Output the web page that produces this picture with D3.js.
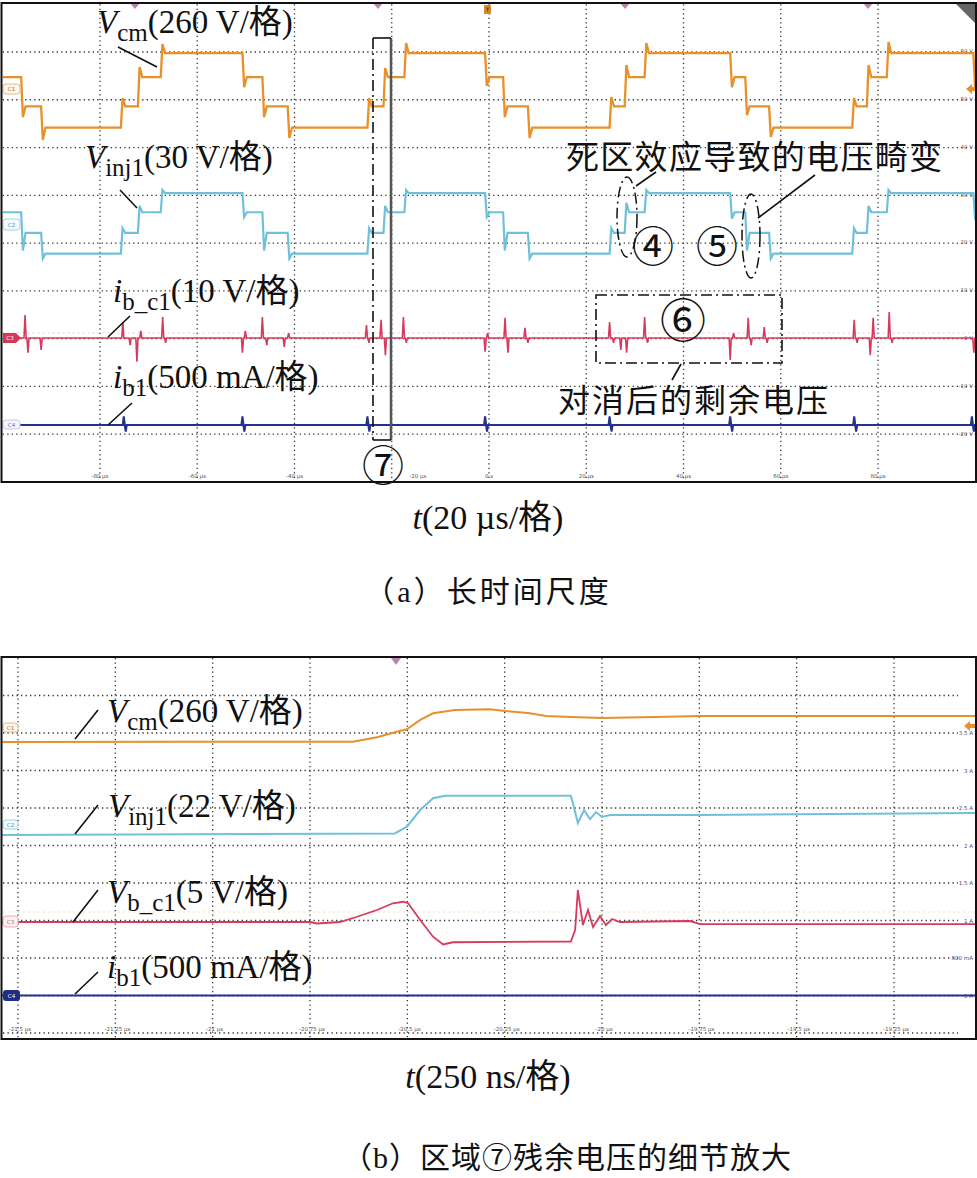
<!DOCTYPE html>
<html><head><meta charset="utf-8">
<script src="https://cdn.jsdelivr.net/npm/d3@7"></script>
<style>body{margin:0;background:#fff}svg{display:block}</style>
</head><body>
<svg id="c" width="977" height="1178"></svg>
<script>
// ================= DATA =================
// ---- panel (a): long time scale, t in µs ----
const aTimeTicks = [-80,-60,-40,-20,0,20,40,60,80];
const aTimeLabels = ["-80 µs","-60 µs","-40 µs","-20 µs","0 s","20 µs","40 µs","60 µs","80 µs"];
const aRightTicks = [60,50,40,30,20,10,0,-10,-20];
const aRightLabels = ["60 V","50 V","40 V","30 V","20 V","10 V","0 V","-10 V","-20 V"];
// switching edges (µs)
const aEdges = [-96.2,-92.1,-75.7,-72.2,-67.5,-50.7,-46.6,-41.4,-25.0,-21.7,-17.4,-0.8,2.9,8.0,24.8,27.9,32.0,49.6,52.7,57.6,74.7,77.7,81.8,99.6];
// Vcm (V) level after each edge, and overshoot peak at each edge
const aVcmStart = 60;
const aVcmLevels = [-100,-215,-100,60,190,60,-100,-215,-100,60,190,60,-100,-215,-100,60,190,60,-100,-215,-100,60,190,60];
const aVcmPeaks  = [-158,-283,-54,114,239,5,-158,-272,-54,109,245,11,-158,-272,-49,125,245,5,-147,-266,-54,125,250,5];
// Vinj1 (V)
const aVinjStart = 8;
const aVinjLevels = [-5,-18,-5,8,20,8,-5,-18,-5,8,20,8,-5,-18,-5,8,20,8,-5,-18,-5,8,20,8];
const aVinjPeaks  = [-16,-21,-2,12,22,5,-16,-21,-2,12,22,5,-16,-21,-2,14,22,4,-16,-21,-2,12,22,5];
// ib_c1 spikes [t µs, V]
const aIbc1Spikes = [[-95.4,4.8],[-94.8,-3.1],[-92.1,-2.5],[-75.3,3.3],[-73.8,-1.5],[-72.4,-5.0],[-71.6,1.5],[-67.1,4.4],[-66.5,-1.0],[-50.7,-3.1],[-50.1,1.5],[-46.6,4.4],[-45.7,-1.5],[-42.1,-1.9],[-41.2,1.0],[-25.2,2.7],[-24.7,-1.0],[-22.2,3.8],[-21.3,-3.6],[-17.6,4.4],[-17.0,-1.0],[-0.8,-2.9],[-0.3,1.0],[3.3,4.2],[3.9,-3.1],[7.4,2.1],[8.0,-1.0],[24.8,3.3],[25.6,-1.0],[27.1,-2.5],[28.3,-3.1],[32.0,4.4],[32.6,-1.0],[49.6,-4.6],[50.3,1.0],[53.3,4.2],[53.9,-1.5],[56.6,2.3],[57.2,-1.0],[75.1,3.8],[75.7,-1.0],[78.4,-3.6],[79.0,4.2],[82.3,5.4],[82.9,-1.0],[99.7,-3.1]];
// ib1 spikes [t µs, A]
const aIb1Spikes = [[-75.1,0.09],[-74.7,-0.07],[-50.7,0.09],[-50.3,-0.07],[-25.0,0.09],[-24.6,-0.07],[-0.8,0.09],[-0.4,-0.07],[24.8,0.09],[25.2,-0.07],[49.6,0.09],[50.0,-0.07],[75.1,0.09],[75.5,-0.07],[99.3,0.09],[99.7,-0.07]];

// ---- panel (b): zoom of region 7, t in µs ----
const bTimeTicks = [-21.5,-21.25,-21,-20.75,-20.5,-20.25,-20,-19.75,-19.5,-19.25];
const bTimeLabels = ["-21.5 µs","-21.25 µs","-21 µs","-20.75 µs","-20.5 µs","-20.25 µs","-20 µs","-19.75 µs","-19.5 µs","-19.25 µs"];
const bRightTicks = [3.5,3,2.5,2,1.5,1,0.5,0];
const bRightLabels = ["3.5 A","3 A","2.5 A","2 A","1.5 A","1 A","500 mA","0 A"];
const bVcm = [[-21.541,-104],[-21.1,-103],[-20.640,-102],[-20.578,-71],[-20.527,-33],[-20.501,-16],[-20.467,49],[-20.434,95],[-20.378,118],[-20.288,123],[-20.249,111],[-20.190,97],[-20.144,76],[-20.080,69],[-19.997,62],[-19.864,69],[-19.746,76],[-19.497,76],[-19.042,76]];
const bVinj = [[-21.541,-6.5],[-20.532,-5.5],[-20.501,-1.6],[-20.467,8.2],[-20.434,15.1],[-20.403,16.6],[-20.080,16.6],[-20.069,7.0],[-20.062,0.6],[-20.046,8.2],[-20.031,2.9],[-20.015,7.0],[-20.000,4.1],[-19.979,5.3],[-19.748,5.3],[-19.042,6.5]];
const bVbc1 = [[-21.541,0],[-20.750,0],[-20.732,-0.2],[-20.673,0],[-20.629,0.7],[-20.578,1.6],[-20.537,2.5],[-20.511,2.7],[-20.498,2.5],[-20.467,0.27],[-20.434,-1.96],[-20.408,-3.0],[-20.383,-2.7],[-20.080,-2.6],[-20.069,-1.07],[-20.062,4.27],[-20.049,-0.4],[-20.036,1.6],[-20.023,-0.67],[-20.005,0.8],[-19.990,-0.4],[-19.974,0.4],[-19.954,0],[-19.774,0.13],[-19.748,-0.27],[-19.042,-0.27]];
const bIb1 = [[-21.541,0],[-19.042,0]];

// ================= LAYOUT / STYLE =================
const C_VCM="#e8902a", C_VINJ="#6fc1d9", C_RED="#d63a5c", C_BLUE="#25318e";
const SERIF="'Liberation Serif','Times New Roman','Noto Sans CJK SC',serif";
const CJK="'Noto Sans CJK SC',sans-serif";
const svg=d3.select("#c");

// panel a
const A={x0:2.7,x1:975.3,y0:482,y1:4.2};
const xA=d3.scaleLinear().domain([-100,100]).range([A.x0,A.x1]);
const yA=d3.scaleLinear().domain([-5,5]).range([A.y0,A.y1]);
const aCh={vcm:{off:3.245,per:260},vinj:{off:0.379,per:30},ibc1:{off:-1.985,per:10},ib1:{off:-3.805,per:0.5}};

// panel b
const B={x0:2,x1:975.5,y0:1033,y1:658};
const xB=d3.scaleLinear().domain([-21.5,-19.25]).range([18,894]);
const yB=d3.scaleLinear().domain([-5,5]).range([1033,658]);
const bCh={vcm:{off:3.16,per:260},vinj:{off:0.573,per:22},vbc1:{off:-2.04,per:5},ib1:{off:-4.0,per:0.5}};

function stepPts(t0,t1,start,edges,levels,peaks){
  const p=[[t0,start]];let prev=start;
  edges.forEach((t,i)=>{p.push([t,prev]);p.push([t+0.35,peaks[i]]);p.push([t+0.9,levels[i]]);prev=levels[i];});
  p.push([t1,prev]);return p;
}
function spikePts(t0,t1,sp){
  const s=sp.slice().sort((a,b)=>a[0]-b[0]);const p=[[t0,0]];
  s.forEach(([t,v])=>{p.push([t-0.22,0]);p.push([t,v]);p.push([t+0.22,0]);});
  p.push([t1,0]);return p;
}

const defs=svg.append("defs");
defs.append("clipPath").attr("id","clipA").append("rect").attr("x",A.x0).attr("y",A.y1-1).attr("width",A.x1-A.x0).attr("height",A.y0-A.y1+1);
defs.append("clipPath").attr("id","clipB").append("rect").attr("x",B.x0).attr("y",658).attr("width",B.x1-B.x0).attr("height",381);

// ---------- Panel A grid ----------
const gA=svg.append("g");
const dotStyle=s=>s.attr("stroke","#333").attr("stroke-width",1.3).attr("stroke-dasharray","1.3,3.2").attr("fill","none");
gA.selectAll(".vg").data(aTimeTicks).join("line").attr("x1",d=>xA(d)).attr("x2",d=>xA(d)).attr("y1",A.y1).attr("y2",A.y0).call(dotStyle);
gA.selectAll(".hg").data(d3.range(-4,5)).join("line").attr("x1",A.x0).attr("x2",A.x1).attr("y1",d=>yA(d)).attr("y2",d=>yA(d)).call(dotStyle);
gA.append("line").attr("x1",A.x0).attr("x2",A.x1).attr("y1",333).attr("y2",333).attr("stroke","#f2c4cc").attr("stroke-width",1).attr("stroke-dasharray","2,3");
gA.selectAll(".tl").data(aTimeTicks).join("text").attr("x",d=>xA(d)+(d===-20?26:0)).attr("y",478).attr("text-anchor","middle")
  .attr("font-family","'DejaVu Sans',sans-serif").attr("font-size",5.5).attr("fill","#555").text((d,i)=>aTimeLabels[i]);
gA.selectAll(".rl").data(aRightTicks).join("text").attr("x",973).attr("y",d=>yA(aCh.ibc1.off+d/aCh.ibc1.per)+2).attr("text-anchor","end")
  .attr("font-family","'DejaVu Sans',sans-serif").attr("font-size",5.5).attr("fill","#7a6060").text((d,i)=>aRightLabels[i]);

// traces A
const lineA=(ch)=>d3.line().x(d=>xA(d[0])).y(d=>yA(ch.off+d[1]/ch.per));
const tr=svg.append("g").attr("clip-path","url(#clipA)");
tr.append("path").attr("d",lineA(aCh.ib1)(spikePts(-100,100,aIb1Spikes))).attr("fill","none").attr("stroke",C_BLUE).attr("stroke-width",2);
tr.append("path").attr("d",lineA(aCh.ibc1)(spikePts(-100,100,aIbc1Spikes))).attr("fill","none").attr("stroke",C_RED).attr("stroke-width",1.6);
tr.append("path").attr("d",lineA(aCh.vinj)(stepPts(-100,100,aVinjStart,aEdges,aVinjLevels,aVinjPeaks))).attr("fill","none").attr("stroke",C_VINJ).attr("stroke-width",2.2);
tr.append("path").attr("d",lineA(aCh.vcm)(stepPts(-100,100,aVcmStart,aEdges,aVcmLevels,aVcmPeaks))).attr("fill","none").attr("stroke",C_VCM).attr("stroke-width",2.3);

// markers A
function badge(g,x,y,w,h,stroke,fill,label,tc){
  g.append("rect").attr("x",x).attr("y",y).attr("width",w).attr("height",h).attr("rx",3).attr("fill",fill).attr("stroke",stroke).attr("stroke-width",1);
  g.append("text").attr("x",x+w/2).attr("y",y+h/2+2).attr("text-anchor","middle").attr("font-family","'DejaVu Sans',sans-serif").attr("font-size",5.5).attr("fill",tc).text(label);
}
badge(svg,3,84,17,10,"#e9b98a","#fff6ec","C1","#b07030");
badge(svg,3,219,17,11,"#9fd4e4","#f2fbfd","C2","#4a98b0");
svg.append("path").attr("d","M3,333 h13 l5,5 l-5,5 h-13 z").attr("fill","#d23a58");
svg.append("text").attr("x",10).attr("y",340).attr("text-anchor","middle").attr("font-family","'DejaVu Sans',sans-serif").attr("font-size",5.5).attr("fill","#fff").text("C3");
badge(svg,3,420,17,9,"#c8c4e8","#f6f5fd","C4","#7070b0");
svg.append("path").attr("d","M966,89 l6,-5 v3 h4 v4 h-4 v3 z").attr("fill",C_VCM);
[135,378,625,868].forEach(x=>svg.append("path").attr("d",`M${x-5},3 L${x+5},3 L${x},9 Z`).attr("fill","#b784b0"));
svg.append("rect").attr("x",484).attr("y",5).attr("width",7).attr("height",9).attr("fill","#d98a2a");
svg.append("text").attr("x",487.5).attr("y",12).attr("text-anchor","middle").attr("font-family","'DejaVu Sans',sans-serif").attr("font-size",6).attr("fill","#222").text("T");
svg.append("path").attr("d","M956,4 L975,4 L975,23 Z").attr("fill","#666");

// frame A
svg.append("rect").attr("x",1.5).attr("y",3).attr("width",974.5).attr("height",479).attr("fill","none").attr("stroke","#111").attr("stroke-width",2);

// ---------- Panel B grid ----------
const gB=svg.append("g");
gB.selectAll(".vg").data(bTimeTicks).join("line").attr("x1",d=>xB(d)).attr("x2",d=>xB(d)).attr("y1",658).attr("y2",1039).call(dotStyle);
gB.selectAll(".hg").data(d3.range(-5,5)).join("line").attr("x1",3).attr("x2",958).attr("y1",d=>yB(d)).attr("y2",d=>yB(d)).call(dotStyle);
gB.append("line").attr("x1",3).attr("x2",975).attr("y1",912).attr("y2",912).attr("stroke","#f1e2b8").attr("stroke-width",1).attr("stroke-dasharray","2,3");
gB.selectAll(".tl").data(bTimeTicks).join("text").attr("x",d=>xB(d)+2).attr("y",1031).attr("text-anchor","middle")
  .attr("font-family","'DejaVu Sans',sans-serif").attr("font-size",5.5).attr("fill","#555").text((d,i)=>bTimeLabels[i]);
gB.selectAll(".rl").data(bRightTicks).join("text").attr("x",973).attr("y",d=>yB(bCh.ib1.off+d/bCh.ib1.per)+2).attr("text-anchor","end")
  .attr("font-family","'DejaVu Sans',sans-serif").attr("font-size",5.5).attr("fill","#4a4a8a").text((d,i)=>bRightLabels[i]);

const lineB=(ch)=>d3.line().x(d=>xB(d[0])).y(d=>yB(ch.off+d[1]/ch.per));
const trB=svg.append("g").attr("clip-path","url(#clipB)");
trB.append("path").attr("d",lineB(bCh.ib1)(bIb1)).attr("fill","none").attr("stroke",C_BLUE).attr("stroke-width",2);
trB.append("path").attr("d",lineB(bCh.vbc1)(bVbc1)).attr("fill","none").attr("stroke",C_RED).attr("stroke-width",1.8);
trB.append("path").attr("d",lineB(bCh.vinj)(bVinj)).attr("fill","none").attr("stroke",C_VINJ).attr("stroke-width",2);
trB.append("path").attr("d",lineB(bCh.vcm)(bVcm)).attr("fill","none").attr("stroke",C_VCM).attr("stroke-width",2);

badge(svg,3,723,15,9,"#e9b98a","#fff6ec","C1","#b07030");
badge(svg,3,820,15,9,"#9fd4e4","#f2fbfd","C2","#4a98b0");
badge(svg,3,916,15,11,"#eeaab8","#fdf0f3","C3","#c06078");
svg.append("rect").attr("x",3).attr("y",990).attr("width",17).attr("height",11).attr("rx",3).attr("fill","#1f2d85");
svg.append("text").attr("x",11.5).attr("y",997.5).attr("text-anchor","middle").attr("font-family","'DejaVu Sans',sans-serif").attr("font-size",5.5).attr("fill","#fff").text("C4");
svg.append("path").attr("d","M964,726 l6,-5 v3 h5 v4 h-5 v3 z").attr("fill",C_VCM);
svg.append("path").attr("d","M391,658 L401,658 L396,665 Z").attr("fill","#b784b0");

svg.append("rect").attr("x",1.5).attr("y",657).attr("width",974.5).attr("height",382).attr("fill","none").attr("stroke","#111").attr("stroke-width",2);

// ---------- annotations ----------
function sigLabel(x,y,main,sub,rest){
  const t=svg.append("text").attr("x",x).attr("y",y).attr("font-family",SERIF).attr("font-size",33).attr("fill","#111");
  t.append("tspan").attr("font-style","italic").text(main);
  t.append("tspan").attr("font-size",25).attr("dy",8).text(sub);
  t.append("tspan").attr("dy",-8).text(rest);
}
function lead(x1,y1,x2,y2,dash){
  const l=svg.append("line").attr("x1",x1).attr("y1",y1).attr("x2",x2).attr("y2",y2).attr("stroke","#111").attr("stroke-width",1.6);
  if(dash) l.attr("stroke-dasharray",dash);
}
function circled(x,y,ch,size){
  svg.append("text").attr("x",x).attr("y",y).attr("text-anchor","middle").attr("dominant-baseline","central").attr("font-family",CJK).attr("font-size",size).attr("fill","#111").text(ch);
}
const DD="11,4,2,4";
// panel a labels
sigLabel(97,33,"V","cm","(260 V/格)"); lead(118,47,157,67);
sigLabel(85,168,"V","inj1","(30 V/格)"); lead(120,190,137,208);
sigLabel(113,302,"i","b_c1","(10 V/格)"); lead(130,316,108,337);
sigLabel(113,388,"i","b1","(500 mA/格)"); lead(132,403,108,425);

// region 7
lead(373,38,373,440,DD);
svg.append("line").attr("x1",391).attr("y1",38).attr("x2",391).attr("y2",440).attr("stroke","#555").attr("stroke-width",2.5);
lead(373,38,391,38); lead(373,440,391,440);
circled(383,462,"⑦",42);

// dead-time distortion
svg.append("text").attr("x",566).attr("y",155).attr("dominant-baseline","central").attr("font-family",CJK).attr("font-size",33).attr("letter-spacing",1.3).attr("fill","#111").text("死区效应导致的电压畸变");
svg.append("ellipse").attr("cx",627).attr("cy",217).attr("rx",10).attr("ry",40).attr("fill","none").attr("stroke","#111").attr("stroke-width",1.5).attr("stroke-dasharray",DD);
svg.append("ellipse").attr("cx",751).attr("cy",236).attr("rx",9).attr("ry",42).attr("fill","none").attr("stroke","#111").attr("stroke-width",1.5).attr("stroke-dasharray",DD);
lead(636,186,656,172); lead(758,218,815,175);
circled(653,243,"④",42);
circled(717,243,"⑤",42);

// region 6
svg.append("rect").attr("x",596).attr("y",295).attr("width",186).attr("height",68).attr("fill","none").attr("stroke","#111").attr("stroke-width",1.6).attr("stroke-dasharray",DD);
circled(683,317,"⑥",46);
lead(681,364,672,380);
svg.append("text").attr("x",558).attr("y",398).attr("dominant-baseline","central").attr("font-family",CJK).attr("font-size",32).attr("letter-spacing",2).attr("fill","#111").text("对消后的剩余电压");

// axis titles & captions
function tTitle(y,rest){
  const t=svg.append("text").attr("x",488).attr("y",y).attr("text-anchor","middle").attr("font-family",SERIF).attr("font-size",34).attr("fill","#111");
  t.append("tspan").attr("font-style","italic").text("t");
  t.append("tspan").text(rest);
}
tTitle(529,"(20 µs/格)");
svg.append("text").attr("x",488).attr("y",591).attr("text-anchor","middle").attr("dominant-baseline","central").attr("font-family",SERIF).attr("font-size",30).attr("letter-spacing",3).attr("fill","#111").text("（a）长时间尺度");

// panel b labels
sigLabel(107,722,"V","cm","(260 V/格)"); lead(98,710,75,739);
sigLabel(108,817,"V","inj1","(22 V/格)"); lead(98,805,75,834);
sigLabel(107,903,"V","b_c1","(5 V/格)"); lead(98,890,73,922);
sigLabel(107,978,"i","b1","(500 mA/格)"); lead(98,972,75,994);
tTitle(1088,"(250 ns/格)");
svg.append("text").attr("x",567).attr("y",1157).attr("text-anchor","middle").attr("dominant-baseline","central").attr("font-family",SERIF).attr("font-size",30).attr("letter-spacing",1).attr("fill","#111").text("（b）区域⑦残余电压的细节放大");
</script>
</body></html>
